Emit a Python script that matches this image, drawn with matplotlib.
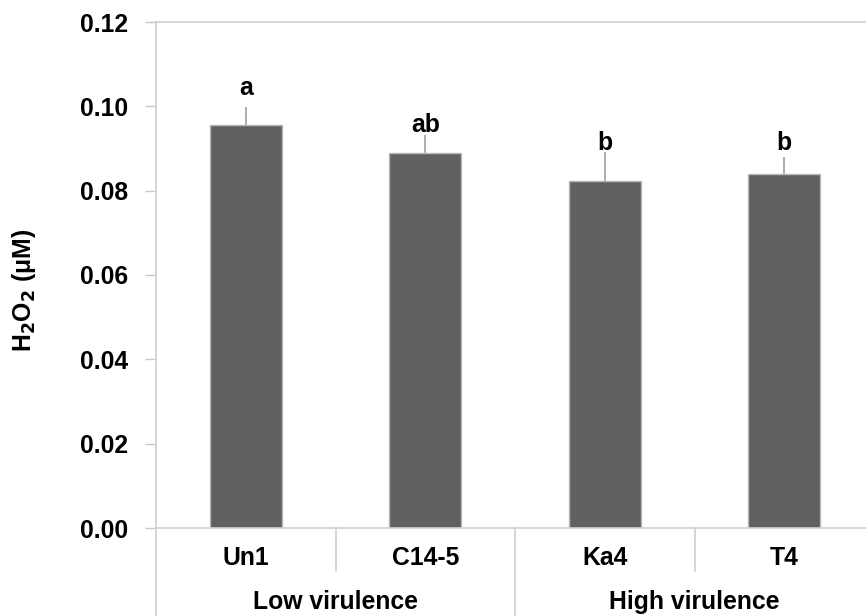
import matplotlib.pyplot as plt
import numpy as np

plt.rcParams['font.family'] = ['Liberation Sans', 'DejaVu Sans']
plt.rcParams['font.weight'] = 'bold'

# data
strains = ['Un1', 'C14-5', 'Ka4', 'T4']
groups = ['Low virulence', 'High virulence']
h2o2 = [0.0955, 0.0889, 0.0823, 0.0839]
err = [0.0043, 0.0042, 0.0068, 0.0042]
letters = ['a', 'ab', 'b', 'b']
letter_y = [0.1044, 0.0956, 0.0913, 0.0913]

W, H = 866, 616
fig = plt.figure(figsize=(W / 100, H / 100), dpi=100)
# plot area runs a little past the right edge of the picture
ax = fig.add_axes([156 / W, 1 - 528 / H, (874 - 156) / W, (528 - 22) / H])
fs = 17.8

x = np.arange(len(strains))
ax.bar(x, h2o2, width=0.4, color='#606060', edgecolor='#b8b8b8', linewidth=1, zorder=2)
ax.errorbar(x, h2o2, yerr=[np.zeros(len(err)), err], fmt='none',
            ecolor='#a0a0a0', elinewidth=1.2, capsize=0, zorder=1)

for xi, t, ty in zip(x, letters, letter_y):
    ax.text(xi, ty, t, ha='center', va='center', fontsize=fs, fontweight='bold')

ax.set_xlim(-0.5, 3.5)
ax.set_ylim(0, 0.12)
ax.set_yticks(np.arange(0, 0.121, 0.02))
ax.set_yticklabels([f'{v:.2f}' for v in np.arange(0, 0.121, 0.02)])
ax.tick_params(axis='y', direction='out', length=8, width=1, color='#c8c8c8',
               labelsize=fs, pad=12)
ax.set_xticks([])

for s in ['left', 'top', 'bottom']:
    ax.spines[s].set_color('#d0d0d0')
    ax.spines[s].set_linewidth(1.2)
ax.spines['right'].set_visible(False)

ax.set_ylabel('H$_\\mathbf{2}$O$_\\mathbf{2}$ (μM)', fontsize=fs, fontweight='bold')
ax.yaxis.set_label_coords((38 - 156) / 718, 0.47)

# two-level category axis
tr = ax.get_xaxis_transform()
ah = 528 - 22
for xi, name in zip(x, strains):
    ax.text(xi, -30 / ah, name, transform=tr, ha='center', va='center',
            fontsize=fs, fontweight='bold')
for gi, g in enumerate(groups):
    ax.text(gi * 2 + 0.5, -74 / ah, g, transform=tr, ha='center', va='center',
            fontsize=fs, fontweight='bold')
for xs in [0.5, 2.5]:
    ax.plot([xs, xs], [0, -43 / ah], transform=tr, color='#d0d0d0', lw=1.2, clip_on=False)
for xs in [-0.5, 1.5, 3.5]:
    ax.plot([xs, xs], [0, -100 / ah], transform=tr, color='#d0d0d0', lw=1.2, clip_on=False)

fig.savefig('out.png', dpi=100)
